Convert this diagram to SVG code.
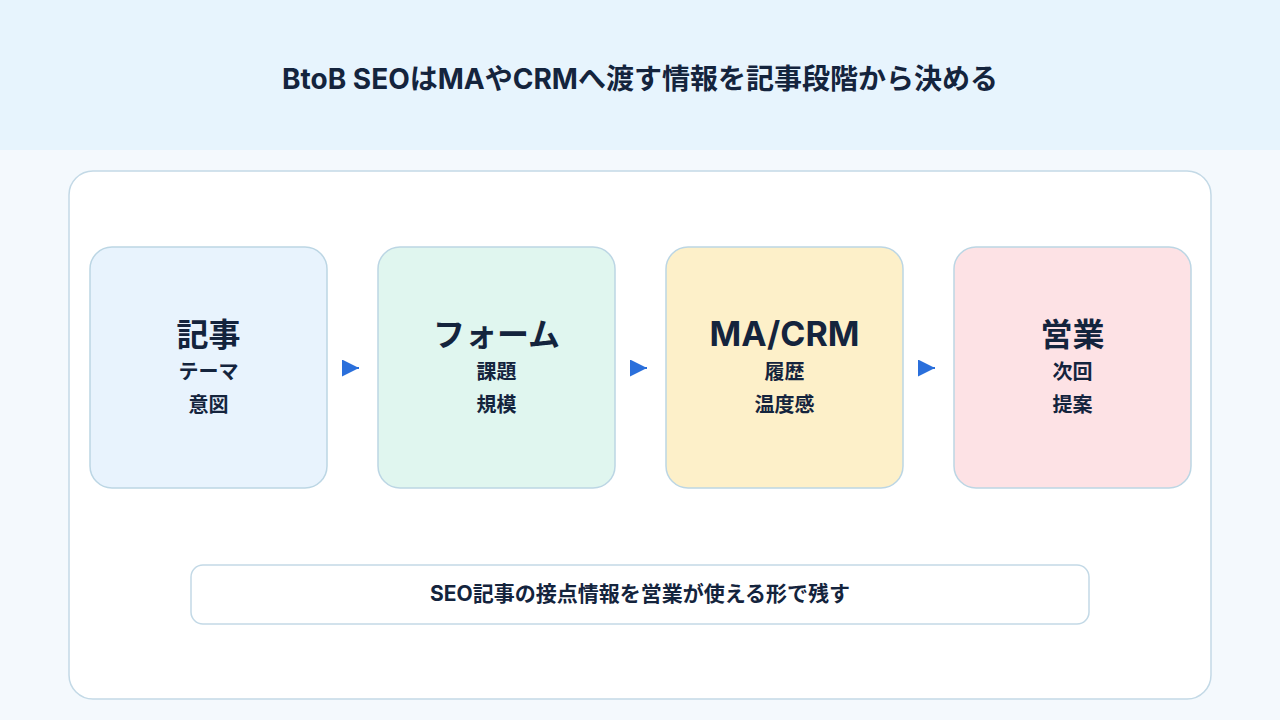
<svg xmlns="http://www.w3.org/2000/svg" width="1280" height="720" viewBox="0 0 1280 720">
<defs>
<marker id="arr" viewBox="0 0 10 10" refX="10" refY="5" markerWidth="17" markerHeight="17" markerUnits="userSpaceOnUse" orient="auto"><path d="M0,0 L10,5 L0,10 z" fill="#2a6fdb"/></marker>
<style>
text{font-family:"Inter","Noto Sans CJK JP","Noto Sans",sans-serif;fill:#14243d;font-weight:700;text-anchor:middle}
.node{stroke:#bcd6e4;stroke-width:1.5}
.t{font-size:32px}
.s{font-size:20px}
</style>
</defs>
<rect x="0" y="0" width="1280" height="720" fill="#f4f9fd"/>
<rect x="0" y="0" width="1280" height="150" fill="#e7f4fd"/>
<text x="640" y="89" style="font-size:28px">BtoB SEOはMAやCRMへ渡す情報を記事段階から決める</text>
<rect x="69" y="171" width="1142" height="528" rx="24" fill="#ffffff" stroke="#c3d9e6" stroke-width="1.5"/>
<g id="n1"><rect class="node" x="90" y="247" width="237" height="241" rx="22" fill="#e8f3fd"/><text class="t" x="208.5" y="346">記事</text><text class="s" x="208.5" y="379">テーマ</text><text class="s" x="208.5" y="412">意図</text></g>
<g id="n2"><rect class="node" x="378" y="247" width="237" height="241" rx="22" fill="#e0f6ef"/><text class="t" x="496.5" y="346">フォーム</text><text class="s" x="496.5" y="379">課題</text><text class="s" x="496.5" y="412">規模</text></g>
<g id="n3"><rect class="node" x="666" y="247" width="237" height="241" rx="22" fill="#fdf0c9"/><text class="t" x="784.5" y="346" style="font-size:34px">MA/CRM</text><text class="s" x="784.5" y="379">履歴</text><text class="s" x="784.5" y="412">温度感</text></g>
<g id="n4"><rect class="node" x="954" y="247" width="237" height="241" rx="22" fill="#fde2e5"/><text class="t" x="1072.5" y="346">営業</text><text class="s" x="1072.5" y="379">次回</text><text class="s" x="1072.5" y="412">提案</text></g>
<g id="connectors" stroke="#2a6fdb" stroke-width="2" marker-end="url(#arr)">
<line x1="342" y1="368" x2="359" y2="368"/>
<line x1="630" y1="368" x2="647" y2="368"/>
<line x1="918" y1="368" x2="935" y2="368"/>
</g>
<g id="note"><rect x="191" y="565" width="898" height="59" rx="12" fill="#ffffff" stroke="#c3d9e6" stroke-width="1.5"/><text x="640" y="601" style="font-size:21px">SEO記事の接点情報を営業が使える形で残す</text></g>
</svg>
